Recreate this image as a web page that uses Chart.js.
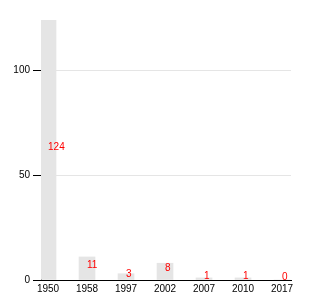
<!DOCTYPE html>
<html>
<head>
<meta charset="utf-8">
<script src="https://cdn.jsdelivr.net/npm/chart.js@4"></script>
<style>
  html, body { margin: 0; padding: 0; background: #fff; }
  #wrap { width: 330px; height: 300px; }
</style>
</head>
<body>
<div id="wrap"><canvas id="chart" width="330" height="300"></canvas></div>
<script>
// Datos del gráfico
const years = ['1950', '1958', '1997', '2002', '2007', '2010', '2017'];
const counts = [124, 11, 3, 8, 1, 1, 0];
const yTicks = [0, 50, 100];

const points = counts.map((v, i) => ({ x: i, y: v }));

// Etiquetas rojas a mitad de cada barra
const midLabels = {
  id: 'midLabels',
  afterDatasetsDraw(chart) {
    const ctx = chart.ctx;
    const meta = chart.getDatasetMeta(0);
    ctx.save();
    ctx.fillStyle = 'red';
    ctx.font = '10px "Liberation Sans", Arial, sans-serif';
    ctx.textAlign = 'left';
    ctx.textBaseline = 'alphabetic';
    meta.data.forEach((bar, i) => {
      const y = (bar.y + bar.base) / 2;
      ctx.fillText(String(counts[i]), bar.x, y);
    });
    ctx.restore();
  }
};

new Chart(document.getElementById('chart'), {
  type: 'bar',
  data: {
    datasets: [{
      data: points,
      backgroundColor: '#e5e5e5',
      borderWidth: 0,
      barThickness: 16
    }]
  },
  options: {
    responsive: false,
    animation: false,
    layout: { padding: { left: 0, right: 39, top: 20, bottom: 0 } },
    plugins: { legend: { display: false }, tooltip: { enabled: false } },
    scales: {
      x: {
        type: 'linear',
        offset: false,
        min: -0.18,
        max: 6.23,
        grid: { display: false, drawTicks: false },
        border: { display: true, color: '#000', width: 1 },
        afterFit(scale) { scale.height = 20; },
        ticks: {
          stepSize: 1,
          includeBounds: false,
          autoSkip: false,
          maxRotation: 0,
          padding: 3,
          color: '#000',
          font: { family: '"Liberation Sans", Arial, sans-serif', size: 10 },
          callback: (v) => Number.isInteger(v) ? years[v] : ''
        }
      },
      y: {
        min: 0,
        max: 124,
        afterFit(scale) { scale.width = 41; },
        afterBuildTicks(scale) { scale.ticks = yTicks.map(v => ({ value: v })); },
        grid: { color: '#e5e5e5', tickColor: '#000', tickLength: 8, drawTicks: true },
        border: { display: true, color: '#000', width: 1 },
        ticks: {
          padding: 3,
          color: '#000',
          font: { family: '"Liberation Sans", Arial, sans-serif', size: 10 }
        }
      }
    }
  },
  plugins: [midLabels]
});
</script>
</body>
</html>
